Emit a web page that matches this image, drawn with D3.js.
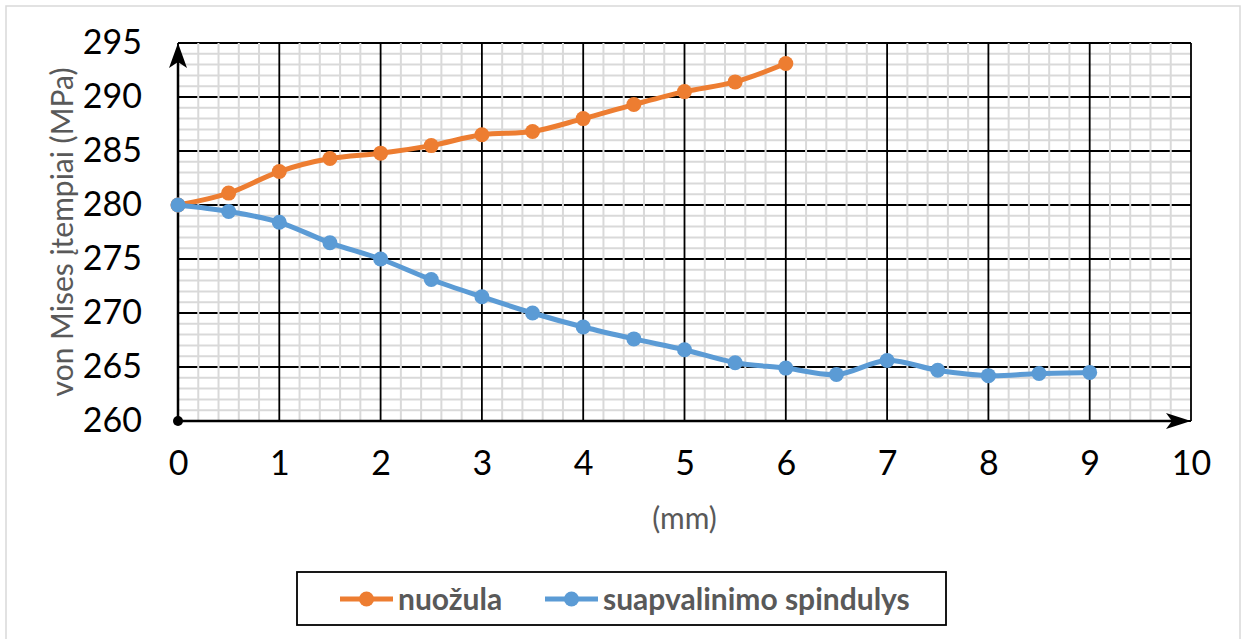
<!DOCTYPE html>
<html><head><meta charset="utf-8">
<script src="https://cdn.jsdelivr.net/npm/d3@7"></script>
<style>
html,body{margin:0;padding:0;background:#fff;}
svg{display:block;}
</style></head>
<body>
<svg id="c" width="1247" height="639"></svg>
<script>
const xValues = [0,0.5,1,1.5,2,2.5,3,3.5,4,4.5,5,5.5,6,6.5,7,7.5,8,8.5,9];
const nuozula = [280,281.1,283.1,284.3,284.8,285.5,286.5,286.8,288.0,289.3,290.5,291.4,293.1];
const spindulys = [280,279.4,278.4,276.5,275.0,273.1,271.5,270.0,268.7,267.6,266.6,265.4,264.9,264.3,265.6,264.7,264.2,264.4,264.5];
const seriesNames = ["nuožula","suapvalinimo spindulys"];
const seriesColors = ["#ED7D31","#5B9BD5"];
const yTicks = [260,265,270,275,280,285,290,295];
const xTicks = [0,1,2,3,4,5,6,7,8,9,10];
const xTitle = "(mm)";
const yTitle = "von Mises įtempiai (MPa)";

const svg = d3.select("#c");
const font = "Lato, 'Open Sans', sans-serif";

svg.append("rect").attr("x",6).attr("y",6).attr("width",1234).attr("height",640)
  .attr("fill","#fff").attr("stroke","#d9d9d9").attr("stroke-width",1.5);

const x = d3.scaleLinear().domain([0,10]).range([178,1191]);
const y = d3.scaleLinear().domain([260,295]).range([421,43]);

const g = svg.append("g");
const minorY = d3.range(260,296,1).filter(v=>v%5!==0);
const minorX = d3.range(0,50,1).map(i=>i/5).filter(v=>Math.abs(v-Math.round(v))>1e-6);

g.selectAll(".mh").data(minorY).join("line")
  .attr("x1",x(0)).attr("x2",x(10)).attr("y1",d=>y(d)).attr("y2",d=>y(d))
  .attr("stroke","#d9d9d9").attr("stroke-width",2);
g.selectAll(".Mh").data(yTicks).join("line")
  .attr("x1",x(0)).attr("x2",x(10)).attr("y1",d=>y(d)).attr("y2",d=>y(d))
  .attr("stroke","#000").attr("stroke-width",1.8);
g.selectAll(".mv").data(minorX).join("line")
  .attr("y1",y(260)).attr("y2",y(295)).attr("x1",d=>x(d)).attr("x2",d=>x(d))
  .attr("stroke","#d9d9d9").attr("stroke-width",2);
g.selectAll(".Mv").data(xTicks).join("line")
  .attr("y1",y(260)).attr("y2",y(295)).attr("x1",d=>x(d)).attr("x2",d=>x(d))
  .attr("stroke","#000").attr("stroke-width",1.8);

// axes lines with arrows
svg.append("line").attr("x1",x(0)).attr("x2",x(0)).attr("y1",y(260)).attr("y2",y(295)+8)
  .attr("stroke","#000").attr("stroke-width",2.5);
svg.append("line").attr("x1",x(0)).attr("x2",x(10)-8).attr("y1",y(260)).attr("y2",y(260))
  .attr("stroke","#000").attr("stroke-width",2.5);
const ax0 = x(0), ay0 = y(295);
svg.append("path").attr("d",`M${ax0},${ay0} L${ax0+9},${ay0+25} L${ax0},${ay0+19} L${ax0-9},${ay0+25} Z`).attr("fill","#000");
const bx0 = x(10), by0 = y(260);
svg.append("path").attr("d",`M${bx0},${by0} L${bx0-25},${by0-8} L${bx0-19},${by0} L${bx0-25},${by0+8} Z`).attr("fill","#000");
svg.append("circle").attr("cx",x(0)).attr("cy",y(260)).attr("r",5).attr("fill","#000");

// tick labels via axes
const yAxis = d3.axisLeft(y).tickValues(yTicks).tickSize(0).tickPadding(36).tickFormat(d3.format("d"));
const ya = svg.append("g").attr("transform",`translate(${x(0)},0)`).call(yAxis);
ya.select(".domain").remove();
ya.selectAll("text").attr("font-family",font).attr("font-size",34).attr("fill","#000");

const xAxis = d3.axisBottom(x).tickValues(xTicks).tickSize(0).tickPadding(30).tickFormat(d3.format("d"));
const xa = svg.append("g").attr("transform",`translate(0,${y(260)})`).call(xAxis);
xa.select(".domain").remove();
xa.selectAll("text").attr("font-family",font).attr("font-size",34).attr("fill","#000");

// titles
svg.append("text").attr("x",(x(0)+x(10))/2).attr("y",529).attr("text-anchor","middle")
  .attr("font-family",font).attr("font-size",30).attr("fill","#595959").text(xTitle);
svg.append("text").attr("transform",`translate(73,${(y(260)+y(295))/2}) rotate(-90)`)
  .attr("text-anchor","middle").attr("font-family",font).attr("font-size",30).attr("fill","#595959").text(yTitle);

// series
const line = d3.line().x(d=>x(d[0])).y(d=>y(d[1])).curve(d3.curveCatmullRom.alpha(0.5));
const seriesData = [nuozula.map((v,i)=>[xValues[i],v]), spindulys.map((v,i)=>[xValues[i],v])];
seriesData.forEach((data,k)=>{
  svg.append("path").datum(data).attr("d",line).attr("fill","none")
    .attr("stroke",seriesColors[k]).attr("stroke-width",5).attr("stroke-linejoin","round").attr("stroke-linecap","round");
  svg.append("g").selectAll("circle").data(data).join("circle")
    .attr("cx",d=>x(d[0])).attr("cy",d=>y(d[1])).attr("r",7.5).attr("fill",seriesColors[k]);
});

// legend
const lg = svg.append("g");
lg.append("rect").attr("x",297).attr("y",572).attr("width",649).attr("height",53)
  .attr("fill","#fff").attr("stroke","#000").attr("stroke-width",1.8);
const legX = [340, 545];
seriesNames.forEach((n,k)=>{
  const it = lg.append("g").attr("transform",`translate(${legX[k]},599)`);
  it.append("line").attr("x1",0).attr("x2",53).attr("stroke",seriesColors[k]).attr("stroke-width",5);
  it.append("circle").attr("cx",26.5).attr("r",7.5).attr("fill",seriesColors[k]);
  it.append("text").attr("x",58).attr("dy","0.35em").attr("font-family",font).attr("font-weight","bold")
    .attr("font-size",30).attr("fill","#595959").text(n);
});
</script>
</body></html>
